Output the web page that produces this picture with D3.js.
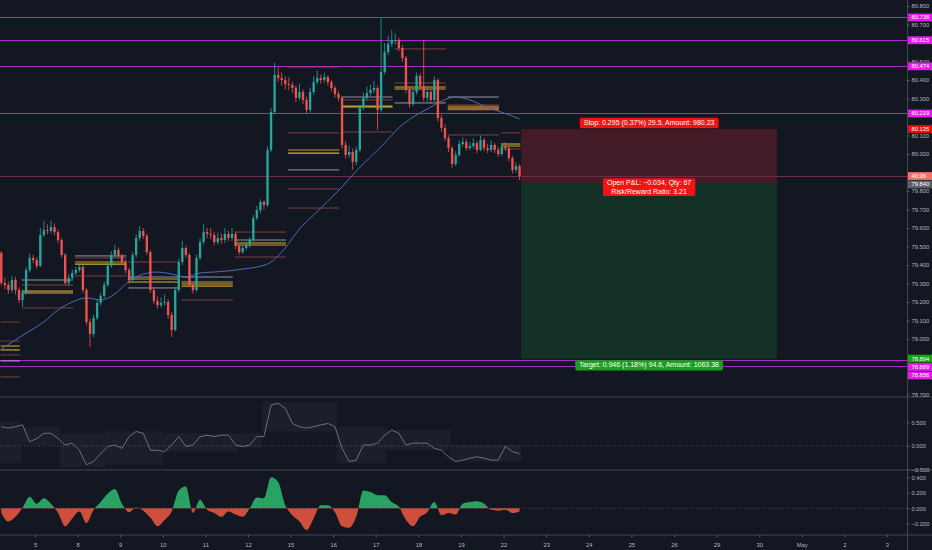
<!DOCTYPE html>
<html>
<head>
<meta charset="utf-8">
<script src="https://cdnjs.cloudflare.com/ajax/libs/d3/7.8.5/d3.min.js"></script>
<style>
  html, body { margin: 0; background: #131722; overflow: hidden; }
  svg { display: block; font-family: "Liberation Sans", Arial, sans-serif; }
</style>
</head>
<body>
<svg id="chart" width="932" height="550"></svg>
<script>
// ---- data (2h bars) ----
const firstOpen = 79.465;
const closes = [
  79.303,79.292,79.265,79.319,79.265,79.211,79.249,79.373,79.438,79.427,
  79.395,79.562,79.589,79.584,79.605,79.578,79.535,79.454,79.303,79.330,
  79.357,79.373,79.389,79.265,79.092,79.027,79.114,79.195,79.232,79.292,
  79.395,79.454,79.481,79.449,79.416,79.373,79.319,79.454,79.546,79.584,
  79.557,79.470,79.265,79.205,79.184,79.195,79.200,79.130,79.049,79.265,
  79.416,79.492,79.454,79.292,79.265,79.438,79.524,79.578,79.568,79.562,
  79.524,79.546,79.535,79.568,79.546,79.568,79.503,79.470,79.492,79.508,
  79.535,79.654,79.697,79.741,79.724,80.022,80.227,80.427,80.411,80.400,
  80.378,80.373,80.357,80.303,80.335,80.292,80.238,80.335,80.389,80.411,
  80.400,80.416,80.389,80.357,80.324,80.303,80.049,79.995,80.011,79.957,
  80.022,80.249,80.303,80.330,80.346,80.357,80.238,80.443,80.551,80.595,
  80.616,80.616,80.573,80.519,80.346,80.270,80.335,80.422,80.368,80.303,
  80.335,80.292,80.400,80.195,80.141,80.086,80.032,79.946,79.995,80.054,
  80.065,80.032,80.043,80.059,80.022,80.076,80.032,80.022,80.049,80.022,
  80.000,80.038,80.032,79.978,79.914,79.935,79.881
];
const highs = [
  79.475,79.330,79.310,79.340,79.335,79.280,79.265,79.390,79.460,79.455,
  79.440,79.600,79.640,79.620,79.640,79.625,79.590,79.545,79.465,79.350,
  79.375,79.390,79.405,79.400,79.275,79.110,79.130,79.215,79.250,79.310,
  79.415,79.475,79.510,79.495,79.460,79.430,79.385,79.470,79.565,79.610,
  79.600,79.570,79.480,79.280,79.230,79.225,79.240,79.215,79.145,79.280,
  79.435,79.530,79.505,79.465,79.305,79.455,79.545,79.620,79.600,79.600,
  79.580,79.575,79.570,79.600,79.585,79.600,79.580,79.515,79.510,79.525,
  79.550,79.670,79.720,79.755,79.750,80.040,80.250,80.492,80.470,80.440,
  80.420,80.415,80.390,80.370,80.380,80.350,80.310,80.360,80.420,80.450,
  80.430,80.440,80.425,80.400,80.370,80.340,80.310,80.070,80.045,80.030,
  80.040,80.265,80.330,80.365,80.375,80.395,80.370,80.735,80.600,80.640,
  80.670,80.650,80.630,80.590,80.530,80.360,80.350,80.440,80.435,80.616,
  80.360,80.350,80.420,80.410,80.210,80.160,80.100,80.045,80.015,80.075,
  80.090,80.080,80.065,80.085,80.070,80.100,80.085,80.055,80.075,80.060,
  80.040,80.060,80.065,80.045,79.990,79.955,79.945
];
const lows = [
  79.290,79.270,79.245,79.250,79.240,79.195,79.173,79.240,79.360,79.410,
  79.380,79.390,79.550,79.565,79.570,79.560,79.520,79.440,79.290,79.285,
  79.320,79.345,79.360,79.250,79.075,78.957,79.010,79.100,79.180,79.220,
  79.280,79.385,79.440,79.435,79.400,79.355,79.300,79.310,79.440,79.530,
  79.540,79.455,79.250,79.190,79.165,79.170,79.180,79.110,79.011,79.040,
  79.255,79.400,79.440,79.280,79.245,79.255,79.425,79.510,79.545,79.540,
  79.505,79.510,79.515,79.520,79.530,79.530,79.485,79.455,79.460,79.480,
  79.495,79.525,79.640,79.680,79.700,79.715,80.010,80.215,80.390,80.370,
  80.350,80.345,80.330,80.280,80.290,80.270,80.220,80.225,80.320,80.375,
  80.380,80.385,80.370,80.340,80.305,80.285,80.030,79.975,79.980,79.914,
  79.940,80.010,80.235,80.290,80.315,80.330,80.130,80.225,80.430,80.535,
  80.580,80.590,80.555,80.500,80.330,80.250,80.260,80.320,80.350,80.285,
  80.280,80.270,80.280,80.175,80.120,80.070,80.010,79.924,79.935,79.985,
  80.040,80.020,80.020,80.030,80.005,80.015,80.015,80.005,80.010,80.005,
  79.985,79.990,80.015,79.960,79.895,79.900,79.859
];

// moving average, sampled every 4 bars (last at bar 146)
const maBars = [0,4,8,12,16,20,24,28,32,36,40,44,48,52,56,60,64,68,72,76,
  80,84,88,92,96,100,104,108,112,116,120,124,128,132,136,140,144,146];
const maValues = [
  78.946,78.995,79.043,79.092,79.157,79.200,79.222,79.211,79.243,79.314,
  79.351,79.362,79.351,79.335,79.357,79.362,79.368,79.378,79.389,79.416,
  79.492,79.595,79.670,79.746,79.822,79.908,79.984,80.059,80.141,80.200,
  80.243,80.286,80.308,80.292,80.259,80.232,80.205,80.189
];

// session levels: start bar of each session and its levels [price, kind]
const sessionStarts = [0, 6, 21, 36, 51, 66, 81, 96, 111, 126, 141];
const sessionLevels = [
  [[79.092,'r'],[78.989,'r'],[78.962,'o'],[78.941,'y'],[78.914,'r'],[78.881,'w'],[78.795,'r']],
  [[79.319,'w'],[79.292,'r'],[79.259,'o'],[79.249,'y'],[79.168,'r']],
  [[79.449,'w'],[79.438,'r'],[79.416,'o'],[79.405,'y'],[79.341,'r']],
  [[79.416,'r'],[79.335,'w'],[79.324,'o'],[79.308,'y'],[79.276,'w']],
  [[79.335,'w'],[79.308,'o'],[79.297,'y'],[79.286,'o'],[79.211,'r']],
  [[79.578,'r'],[79.535,'w'],[79.519,'y'],[79.508,'o'],[79.443,'r']],
  [[80.470,'r'],[80.114,'r'],[80.022,'o'],[80.005,'y'],[79.914,'w'],[79.811,'r'],[79.708,'r']],
  [[80.308,'w'],[80.292,'r'],[80.259,'o'],[80.254,'y'],[80.119,'r']],
  [[80.568,'r'],[80.384,'r'],[80.362,'y'],[80.351,'o'],[80.276,'w']],
  [[80.308,'w'],[80.265,'r'],[80.254,'o'],[80.243,'y'],[80.238,'r'],[80.103,'r']],
  [[80.114,'r'],[80.054,'y'],[80.043,'o'],[80.027,'r']]
];
const sessionFills = [[126, 141, 80.265, 80.238]];

// full-width horizontal levels
const hLevels = [80.738, 80.615, 80.474, 80.219, 78.889, 78.856];

// position tool
const entryPrice = 79.840, stopPrice = 80.135, targetPrice = 78.894, lastPrice = 79.881;
const positionFromBar = 147, positionToHour = 418;
const stopText = 'Stop: 0.295 (0.37%) 29.5, Amount: 980.23';
const pnlText = ['Open P&L: \u22120.034, Qty: 67', 'Risk/Reward Ratio: 3.21'];
const targetText = 'Target: 0.946 (1.18%) 94.6, Amount: 1063.38';
const lastTagText = '40:36';

// oscillators, sampled every 2 bars
const osc1Line = [
  0.41,0.38,0.41,0.45,0.09,0.16,0.27,0.27,0.16,0.02,
  0.06,-0.09,-0.40,-0.33,-0.16,-0.01,0.02,-0.05,0.20,0.31,
  0.27,-0.09,-0.09,-0.12,0.02,0.20,-0.01,0.02,0.20,0.23,
  0.20,0.23,0.23,0.02,-0.01,0.02,0.20,0.20,0.87,0.91,
  0.80,0.48,0.41,0.38,0.41,0.45,0.48,0.41,-0.05,-0.33,
  -0.30,0.02,0.02,0.06,0.23,0.34,0.27,0.02,0.06,0.06,
  0.06,-0.05,-0.09,-0.23,-0.33,-0.30,-0.26,-0.23,-0.26,-0.30,
  -0.30,-0.01,-0.12,-0.16
];
// band: [fromBar, toBar, upper, lower]
const osc1Band = [
  [0, 6, 0.52, -0.37], [6, 17, 0.41, 0.02], [17, 30, 0.27, -0.44],
  [30, 46, 0.31, -0.40], [46, 67, 0.27, -0.12], [67, 74, 0.27, -0.05],
  [74, 95, 0.94, 0.31], [95, 109, 0.41, -0.37], [109, 127, 0.34, -0.09],
  [127, 147, 0.02, -0.33]
];
const osc2Hist = [
  -0.06,-0.17,-0.11,0.01,0.15,0.06,0.13,0.06,-0.06,-0.23,
  -0.13,-0.04,-0.19,-0.02,0.08,0.19,0.25,0.06,-0.05,0.01,
  -0.03,-0.12,-0.23,-0.15,-0.04,0.23,0.28,-0.06,0.11,-0.02,
  -0.06,-0.11,-0.04,-0.08,-0.11,0.00,0.14,0.13,0.40,0.34,
  0.04,-0.09,-0.17,-0.28,-0.13,0.04,0.04,-0.05,-0.23,-0.25,
  -0.11,0.23,0.21,0.17,0.17,0.08,0.02,-0.15,-0.23,-0.11,
  -0.05,0.08,-0.09,-0.06,-0.08,0.06,0.08,0.09,0.06,-0.02,
  -0.03,-0.02,-0.06,-0.04
];

// axes
const dayLabels = ['5','8','9','10','11','12','15','16','17','18','19','22','23','24','25','26','29','30','May','2','3'];
const priceTicks = [80.8,80.7,80.6,80.5,80.4,80.3,80.2,80.1,80.0,79.9,79.8,79.7,79.6,79.5,79.4,79.3,79.2,79.1,79.0,78.9,78.8,78.7];
const osc1Ticks = [0.5, 0, -0.5];
const osc2Ticks = [0.4, 0.2, 0, -0.2];

// ---- layout ----
const W = 932, H = 550, paneW = 907;
const mainBottom = 397, osc1Bottom = 470, osc2Bottom = 535;
const bg = '#131722', gridLine = '#434651', axisText = '#b2b5be';
const upColor = '#26a69a', downColor = '#ef5350';
const levelColors = { r: '#b8544f', o: '#f5a21f', y: '#d6cc3a', w: '#c8c6dc' };

const x = d3.scaleLinear().domain([-19.72, 491.3]).range([0, paneW]); // trading hours
const barX = i => x(-19 + 2 * i);
const barEdge = i => x(-20 + 2 * i);
const barW = x(2) - x(0);
const y = d3.scaleLinear().domain([78.7, 80.8]).range([394.5, 6]);
const y1 = d3.scaleLinear().domain([-0.5, 0.5]).range([469.5, 422.5]);
const y2 = d3.scaleLinear().domain([-0.2, 0.4]).range([523.8, 477.3]);
const crisp = v => Math.round(v) + 0.5;

const svg = d3.select('#chart');
svg.append('rect').attr('width', W).attr('height', H).attr('fill', bg);

const defs = svg.append('defs');
const clip = (id, x0, y0, w, h) => defs.append('clipPath').attr('id', id)
  .append('rect').attr('x', x0).attr('y', y0).attr('width', w).attr('height', h);
clip('cMain', 0, 0, paneW, mainBottom);
clip('cOsc1', 0, mainBottom, paneW, osc1Bottom - mainBottom);
clip('cPos', 0, osc1Bottom, paneW, y2(0) - osc1Bottom);
clip('cNeg', 0, y2(0), paneW, osc2Bottom - y2(0));

// ---- main pane ----
const main = svg.append('g').attr('clip-path', 'url(#cMain)');

// position boxes
const px0 = barEdge(positionFromBar), px1 = x(positionToHour);
main.append('rect').attr('x', px0).attr('width', px1 - px0)
  .attr('y', y(stopPrice)).attr('height', y(entryPrice) - y(stopPrice))
  .attr('fill', 'rgba(235,45,60,0.22)');
main.append('rect').attr('x', px0).attr('width', px1 - px0)
  .attr('y', y(entryPrice)).attr('height', y(targetPrice) - y(entryPrice))
  .attr('fill', 'rgba(20,160,50,0.2)');

// full-width purple levels
main.selectAll('.hl').data(hLevels).enter().append('line')
  .attr('x1', 0).attr('x2', paneW)
  .attr('y1', d => crisp(y(d))).attr('y2', d => crisp(y(d)))
  .attr('stroke', '#a62bc4').attr('stroke-width', 1)
  .attr('shape-rendering', 'crispEdges');

// last price line
main.append('line').attr('x1', 0).attr('x2', paneW)
  .attr('y1', crisp(y(lastPrice))).attr('y2', crisp(y(lastPrice)))
  .attr('stroke', '#6e2f45').attr('stroke-width', 1)
  .attr('shape-rendering', 'crispEdges');

// session level fills and segments
sessionFills.forEach(([a, b, hi, lo]) => {
  main.append('rect').attr('x', barEdge(a) + 1).attr('width', barEdge(b) - barEdge(a) - 2)
    .attr('y', y(hi)).attr('height', y(lo) - y(hi))
    .attr('fill', 'rgba(200,90,40,0.35)');
});
const segs = [];
sessionLevels.forEach((lv, k) => {
  const a = sessionStarts[k], b = k + 1 < sessionStarts.length ? sessionStarts[k + 1] : closes.length;
  lv.forEach(([p, kind]) => segs.push({ a, b, p, kind }));
});
main.selectAll('.seg').data(segs).enter().append('line')
  .attr('x1', d => barEdge(d.a) + 1).attr('x2', d => barEdge(d.b) - 1)
  .attr('y1', d => y(d.p)).attr('y2', d => y(d.p))
  .attr('stroke', d => levelColors[d.kind])
  .attr('stroke-width', d => d.kind === 'o' || d.kind === 'y' ? 1.1 : 0.8)
  .attr('opacity', d => d.kind === 'r' ? 0.8 : 0.9);

// moving average
main.append('path')
  .datum(maBars.map((b, i) => [b, maValues[i]]))
  .attr('fill', 'none').attr('stroke', '#4a6cb3').attr('stroke-width', 1)
  .attr('d', d3.line().x(d => barX(d[0])).y(d => y(d[1])).curve(d3.curveMonotoneX));

// candles
const candles = closes.map((c, i) => {
  const o = i ? closes[i - 1] : firstOpen;
  return { i, o, c, h: Math.max(highs[i], o, c), l: Math.min(lows[i], o, c) };
});
const cg = main.selectAll('.candle').data(candles).enter().append('g');
cg.append('line')
  .attr('x1', d => barX(d.i)).attr('x2', d => barX(d.i))
  .attr('y1', d => y(d.h)).attr('y2', d => y(d.l))
  .attr('stroke', d => d.c >= d.o ? upColor : downColor).attr('stroke-width', 0.8);
cg.append('rect')
  .attr('x', d => barX(d.i) - barW * 0.33).attr('width', barW * 0.66)
  .attr('y', d => y(Math.max(d.o, d.c)))
  .attr('height', d => Math.max(0.8, Math.abs(y(d.o) - y(d.c))))
  .attr('fill', d => d.c >= d.o ? upColor : downColor);

// position labels
const labelBox = (cx, baseY, lines, fill) => {
  const g = main.append('g');
  const t = g.append('text').attr('fill', '#fff').attr('font-size', 7).attr('text-anchor', 'middle');
  lines.forEach((s, i) => t.append('tspan').attr('x', cx).attr('y', baseY + i * 8.3).text(s));
  const bb = t.node().getBBox();
  g.insert('rect', 'text').attr('x', bb.x - 4).attr('y', bb.y - 1.2)
    .attr('width', bb.width + 8).attr('height', bb.height + 2.4)
    .attr('rx', 2).attr('fill', fill);
};
const pcx = (px0 + px1) / 2;
labelBox(pcx, y(stopPrice) - 4, [stopText], '#f01414');
labelBox(pcx, y(entryPrice) + 1.8, pnlText, '#f01414');
labelBox(pcx, y(targetPrice) + 8.8, [targetText], '#17a317');

// ---- oscillator 1 ----
const o1 = svg.append('g').attr('clip-path', 'url(#cOsc1)');
o1.selectAll('.band').data(osc1Band).enter().append('rect')
  .attr('x', d => barEdge(d[0])).attr('width', d => barEdge(d[1]) - barEdge(d[0]))
  .attr('y', d => y1(d[2])).attr('height', d => y1(d[3]) - y1(d[2]))
  .attr('fill', 'rgba(120,123,134,0.09)');
o1.append('line').attr('x1', 0).attr('x2', paneW).attr('y1', y1(0)).attr('y2', y1(0))
  .attr('stroke', '#5d606b').attr('stroke-dasharray', '1,2').attr('stroke-width', 0.8);
o1.append('path').datum(osc1Line)
  .attr('fill', 'none').attr('stroke', '#80838d').attr('stroke-width', 0.8)
  .attr('d', d3.line().x((d, k) => barX(2 * k)).y(d => y1(d)));

// ---- oscillator 2 ----
const o2 = svg.append('g');
o2.append('line').attr('x1', 0).attr('x2', paneW).attr('y1', y2(0)).attr('y2', y2(0))
  .attr('stroke', '#5d606b').attr('stroke-dasharray', '1,2').attr('stroke-width', 0.8);
const histArea = d3.area().x((d, k) => barX(2 * k)).y0(y2(0)).y1(d => y2(d)).curve(d3.curveMonotoneX);
o2.append('path').datum(osc2Hist).attr('clip-path', 'url(#cPos)')
  .attr('fill', '#2bb36a').attr('opacity', 0.9).attr('d', histArea);
o2.append('path').datum(osc2Hist).attr('clip-path', 'url(#cNeg)')
  .attr('fill', '#e4553f').attr('opacity', 0.9).attr('d', histArea);

// ---- separators ----
[mainBottom, osc1Bottom, osc2Bottom].forEach(v => {
  svg.append('line').attr('x1', 0).attr('x2', W).attr('y1', v).attr('y2', v)
    .attr('stroke', gridLine).attr('stroke-width', 1);
});
svg.append('line').attr('x1', paneW + 0.5).attr('x2', paneW + 0.5).attr('y1', 0).attr('y2', H)
  .attr('stroke', gridLine).attr('stroke-width', 1);

// ---- price tags on the right axis ----
const fmt = d3.format('.3f');
const tags = [
  ...hLevels.map(v => ({ v, text: fmt(v), fill: '#e81ce8' })),
  { v: stopPrice, text: fmt(stopPrice), fill: '#f20d0d' },
  { v: lastPrice, text: lastTagText, fill: '#f0736c' },
  { v: entryPrice, text: fmt(entryPrice), fill: '#5d606b' },
  { v: targetPrice, text: fmt(targetPrice), fill: '#17a317' }
].map(d => ({ ...d, cy: y(d.v) })).sort((a, b) => a.cy - b.cy);
const tagH = 8.4;
tags.forEach((d, k) => { if (k && d.cy < tags[k - 1].cy + tagH) d.cy = tags[k - 1].cy + tagH; });

// ---- axes ----
const styleAxis = g => {
  g.select('.domain').remove();
  g.selectAll('.tick line').attr('stroke', '#787b86').attr('stroke-width', 0.6);
  g.selectAll('.tick text').attr('fill', axisText).attr('font-size', 5.8)
    .attr('font-family', '"Liberation Sans", Arial, sans-serif');
};
// tick labels fully hidden under a tag are dropped, as on the reference
const visibleTicks = priceTicks.filter(v => tags.every(t => Math.abs(t.cy - y(v)) > 4.6));
svg.append('g').attr('transform', `translate(${paneW},0)`)
  .call(d3.axisRight(y).tickValues(visibleTicks).tickSize(2.5).tickPadding(2).tickFormat(fmt))
  .call(styleAxis);
svg.append('g').attr('transform', `translate(${paneW},0)`)
  .call(d3.axisRight(y1).tickValues(osc1Ticks).tickSize(2.5).tickPadding(2).tickFormat(fmt))
  .call(styleAxis);
svg.append('g').attr('transform', `translate(${paneW},0)`)
  .call(d3.axisRight(y2).tickValues(osc2Ticks).tickSize(2.5).tickPadding(2).tickFormat(fmt))
  .call(styleAxis);
svg.append('g').attr('transform', `translate(0,${osc2Bottom})`)
  .call(d3.axisBottom(x).tickValues(dayLabels.map((d, k) => 24 * k))
    .tickSize(2.5).tickPadding(5).tickFormat((d, k) => dayLabels[k]))
  .call(styleAxis);

const tg = svg.selectAll('.tag').data(tags).enter().append('g');
tg.append('rect').attr('x', paneW + 1).attr('width', W - paneW - 1)
  .attr('y', d => d.cy - tagH / 2 + 0.3).attr('height', tagH - 0.6)
  .attr('fill', d => d.fill);
tg.append('text').attr('x', paneW + 4.5).attr('y', d => d.cy + 2)
  .attr('font-size', 5.8).attr('fill', '#fff').text(d => d.text);
</script>
</body>
</html>
